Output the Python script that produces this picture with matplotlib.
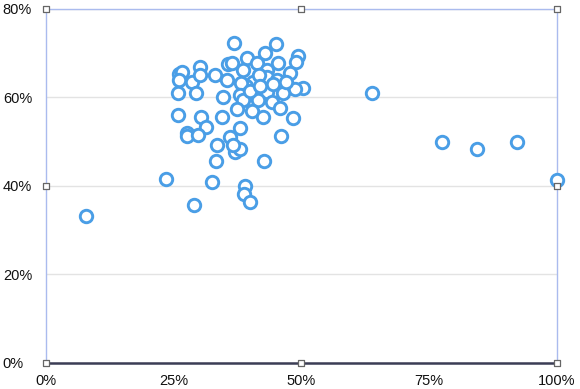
import matplotlib
matplotlib.use("Agg")
import matplotlib.pyplot as plt
from matplotlib.ticker import FuncFormatter

# Data (percent)
x_vals = [7.8, 23.5, 29.0, 32.5, 38.9, 38.7, 39.9, 33.3, 42.7, 37.0, 38.0,
          63.8, 77.5, 84.3, 92.2, 100.0,
          26.0, 26.6, 26.0, 28.6, 30.1, 30.1, 33.1, 25.8, 29.4, 25.8, 30.3,
          31.3, 27.6, 27.6, 29.7, 34.4, 34.6, 33.5, 36.0, 36.6, 38.0, 35.6, 35.4,
          36.8, 45.0, 42.9, 39.3, 49.3, 48.9, 41.3, 45.4, 38.6, 36.5, 43.2,
          47.7, 40.5, 43.2, 45.2, 39.1, 38.2, 50.3, 48.7, 43.2, 46.4, 38.0,
          38.6, 41.5, 44.2, 37.4, 40.3, 42.5, 45.8, 48.3, 46.0, 44.5, 47.0,
          41.8, 40.0, 42.0]
y_vals = [33.2, 41.6, 35.7, 40.9, 40.0, 38.2, 36.4, 45.6, 45.6, 47.6, 48.3,
          61.0, 49.9, 48.4, 49.9, 41.4,
          65.3, 65.8, 64.0, 63.5, 66.9, 65.1, 65.1, 61.0, 61.0, 56.0, 55.6,
          53.3, 52.0, 51.2, 51.5, 55.6, 60.1, 49.3, 51.1, 49.3, 53.1, 67.6, 64.0,
          72.3, 72.1, 70.1, 68.9, 69.4, 68.0, 67.8, 67.8, 66.2, 67.8, 66.2,
          65.5, 63.4, 64.6, 64.0, 62.6, 63.3, 62.1, 61.9, 61.2, 61.0, 60.6,
          59.4, 59.4, 59.0, 57.4, 56.9, 55.6, 57.6, 55.4, 51.3, 63.0, 63.5,
          65.0, 61.5, 62.5]
x_ticks = [0, 25, 50, 75, 100]
y_ticks = [0, 20, 40, 60, 80]
handle_x = [0, 50, 100, 0, 100, 0, 50, 100]
handle_y = [80, 80, 80, 40, 40, 0, 0, 0]

plt.rcParams['font.family'] = ['Liberation Sans', 'DejaVu Sans']
fig = plt.figure(figsize=(5.8, 3.89), dpi=100)
ax = fig.add_axes([0.079, 0.067, 0.881, 0.910])
ax.set_xlim(0, 100)
ax.set_ylim(0, 80)

ax.scatter(x_vals, y_vals, s=80, facecolors='white', edgecolors='#4a9ee6',
           linewidths=2.1, zorder=3, clip_on=False)

ax.set_xticks(x_ticks)
ax.set_yticks(y_ticks)
fmt = FuncFormatter(lambda v, p: f"{int(v)}%")
ax.xaxis.set_major_formatter(fmt)
ax.yaxis.set_major_formatter(fmt)
ax.tick_params(axis='both', length=0, labelsize=10.5, colors='#111111')
ax.tick_params(axis='x', pad=8)
ax.tick_params(axis='y', pad=31)
for lab in ax.get_yticklabels():
    lab.set_horizontalalignment('left')

ax.grid(axis='y', color='#e3e3e3', linewidth=1, zorder=0)
ax.grid(axis='x', visible=False)

for side in ['left', 'top', 'right']:
    ax.spines[side].set_color('#aabbee')
    ax.spines[side].set_linewidth(1.0)
ax.spines['bottom'].set_color('#3b3d55')
ax.spines['bottom'].set_linewidth(1.8)
ax.set_axisbelow(True)

ax.scatter(handle_x, handle_y, marker='s', s=22, facecolors='white',
           edgecolors='#666666', linewidths=0.9, zorder=5, clip_on=False)

fig.savefig('out.png', dpi=100)
